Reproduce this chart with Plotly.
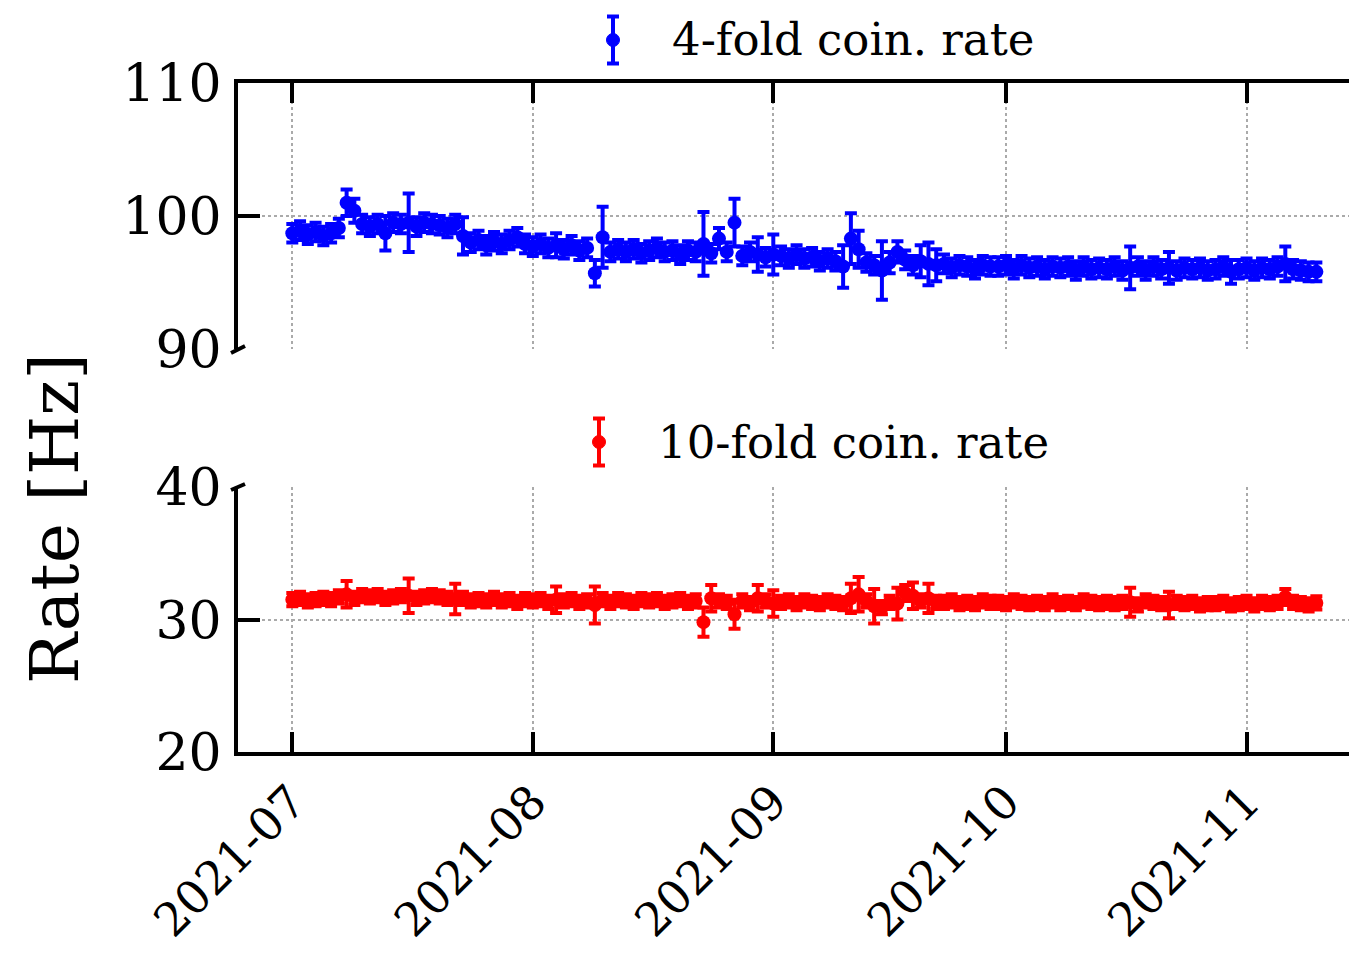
import plotly.graph_objects as go
import pandas as pd

W, H = 1349, 953

# ---------------- data (daily, 2021-07-01 .. 2021-11-10) ----------------
dates = pd.date_range("2021-07-01", "2021-11-10", freq="D")

rate4 = [
    98.7, 98.9, 98.6, 98.8, 98.5, 98.7, 99.1,      # Jul 1-7
    101.0, 100.4, 99.4, 99.2, 99.4, 98.7, 99.5,    # Jul 8-14
    99.4, 99.5, 99.2, 99.5, 99.4, 99.3, 99.1,      # Jul 15-21
    99.4, 98.5, 98.0, 98.2, 97.8, 98.1, 97.9,      # Jul 22-28
    98.2, 98.4, 97.9, 97.7, 97.9, 97.6, 97.8,      # Jul 29-Aug 4
    97.5, 97.8, 97.4, 97.6, 95.7, 98.4, 97.3,      # Aug 5-11
    97.5, 97.3, 97.5, 97.2, 97.4, 97.6, 97.3,      # Aug 12-18
    97.4, 97.1, 97.4, 97.3, 97.9, 97.2, 98.3,      # Aug 19-25
    97.3, 99.5, 97.0, 97.3, 97.1, 96.9, 97.1,      # Aug 26-Sep 1
    97.0, 96.8, 97.1, 96.8, 96.9, 96.6, 96.8,      # Sep 2-8
    96.6, 96.2, 98.3, 97.5, 96.5, 96.3, 95.9,      # Sep 9-15
    96.5, 97.3, 96.7, 96.3, 96.6, 96.4, 96.3,      # Sep 16-22
    96.4, 96.1, 96.3, 96.2, 96.0, 96.3, 96.2,      # Sep 23-29
    96.2, 96.3, 96.0, 96.3, 96.1, 96.2, 96.0,      # Sep 30-Oct 6
    96.2, 96.1, 96.2, 95.9, 96.2, 96.0, 96.1,      # Oct 7-13
    96.0, 96.2, 95.9, 96.1, 96.2, 95.9, 96.2,      # Oct 14-20
    96.0, 96.1, 95.9, 96.1, 96.0, 96.1, 95.9,      # Oct 21-27
    96.0, 96.2, 95.8, 96.0, 96.1, 95.9, 96.1,      # Oct 28-Nov 3
    96.0, 96.2, 96.4, 96.0, 95.9, 95.8, 95.8,      # Nov 4-10
]
err4 = [
    0.7, 0.7, 0.7, 0.7, 0.7, 0.7, 0.7,
    1.0, 0.9, 0.7, 0.7, 0.7, 1.3, 0.7,
    0.7, 2.2, 0.7, 0.7, 0.7, 0.7, 0.7,
    0.7, 1.4, 0.7, 0.7, 0.7, 0.7, 0.7,
    0.7, 0.7, 0.7, 0.7, 0.7, 0.7, 0.9,
    0.7, 0.7, 0.7, 0.7, 1.0, 2.3, 0.7,
    0.7, 0.7, 0.7, 0.7, 0.7, 0.7, 0.7,
    0.7, 0.7, 0.7, 0.7, 2.4, 0.7, 0.8,
    0.7, 1.8, 0.7, 0.7, 1.3, 0.7, 1.5,
    0.7, 0.7, 0.7, 0.7, 0.7, 0.7, 0.7,
    0.7, 1.6, 1.9, 1.4, 0.7, 0.7, 2.2,
    0.8, 0.8, 0.7, 0.7, 1.2, 1.6, 1.2,
    0.7, 0.7, 0.7, 0.7, 0.7, 0.7, 0.7,
    0.7, 0.7, 0.7, 0.7, 0.7, 0.7, 0.7,
    0.7, 0.7, 0.7, 0.7, 0.7, 0.7, 0.7,
    0.7, 0.7, 0.7, 1.6, 0.7, 0.7, 0.7,
    0.7, 1.2, 0.7, 0.7, 0.7, 0.7, 0.7,
    0.7, 0.7, 0.9, 0.7, 0.7, 0.7, 0.7,
    0.7, 0.7, 1.3, 0.7, 0.7, 0.7, 0.7,
]

rate10 = [
    31.5, 31.6, 31.4, 31.5, 31.6, 31.5, 31.7,
    31.9, 31.6, 31.8, 31.7, 31.8, 31.6, 31.7,
    31.8, 31.8, 31.6, 31.7, 31.8, 31.7, 31.6,
    31.55, 31.6, 31.4, 31.5, 31.4, 31.6, 31.4,
    31.5, 31.3, 31.5, 31.4, 31.5, 31.3, 31.5,
    31.4, 31.5, 31.3, 31.4, 31.1, 31.5, 31.3,
    31.5, 31.4, 31.3, 31.5, 31.4, 31.5, 31.3,
    31.4, 31.5, 31.3, 31.4, 29.8, 31.6, 31.4,
    31.3, 30.4, 31.4, 31.2, 31.6, 31.4, 31.2,
    31.3, 31.4, 31.2, 31.4, 31.3, 31.2, 31.4,
    31.3, 31.2, 31.6, 31.9, 31.4, 31.0, 30.9,
    31.3, 31.2, 32.0, 31.8, 31.4, 31.6, 31.3,
    31.3, 31.4, 31.2, 31.3, 31.2, 31.4, 31.3,
    31.3, 31.2, 31.4, 31.3, 31.2, 31.3, 31.2,
    31.4, 31.2, 31.3, 31.2, 31.4, 31.3, 31.2,
    31.3, 31.2, 31.3, 31.3, 31.1, 31.4, 31.3,
    31.2, 31.1, 31.3, 31.2, 31.3, 31.1, 31.2,
    31.2, 31.3, 31.1, 31.2, 31.3, 31.1, 31.3,
    31.2, 31.3, 31.7, 31.3, 31.2, 31.1, 31.25,
]
err10 = [
    0.5, 0.5, 0.5, 0.5, 0.5, 0.5, 0.5,
    1.0, 0.5, 0.5, 0.5, 0.5, 0.5, 0.5,
    0.5, 1.3, 0.5, 0.5, 0.5, 0.5, 0.5,
    1.15, 0.5, 0.5, 0.5, 0.5, 0.5, 0.5,
    0.5, 0.5, 0.5, 0.5, 0.5, 0.5, 1.0,
    0.5, 0.5, 0.5, 0.5, 1.4, 0.5, 0.5,
    0.5, 0.5, 0.5, 0.5, 0.5, 0.5, 0.5,
    0.5, 0.5, 0.5, 0.5, 1.1, 1.0, 0.5,
    0.5, 1.1, 0.5, 0.5, 1.0, 0.5, 1.0,
    0.5, 0.5, 0.5, 0.5, 0.5, 0.5, 0.5,
    0.5, 0.5, 1.1, 1.3, 0.5, 1.3, 0.5,
    0.5, 1.2, 0.6, 1.0, 0.5, 1.1, 0.5,
    0.5, 0.5, 0.5, 0.5, 0.5, 0.5, 0.5,
    0.5, 0.5, 0.5, 0.5, 0.5, 0.5, 0.5,
    0.5, 0.5, 0.5, 0.5, 0.5, 0.5, 0.5,
    0.5, 0.5, 0.5, 1.1, 0.5, 0.5, 0.5,
    0.5, 1.0, 0.5, 0.5, 0.5, 0.5, 0.5,
    0.5, 0.5, 0.5, 0.5, 0.5, 0.5, 0.5,
    0.5, 0.5, 0.6, 0.5, 0.5, 0.5, 0.5,
]

month_ticks = ["2021-07-01", "2021-08-01", "2021-09-01", "2021-10-01", "2021-11-01"]
month_labels = ["2021-07", "2021-08", "2021-09", "2021-10", "2021-11"]
top_ticks = [90, 100, 110]
bottom_ticks = [20, 30, 40]
label4 = "4-fold coin. rate"
label10 = "10-fold coin. rate"

BLUE = "#0000ff"
RED = "#ff0000"
FONT = "DejaVu Serif"


def px(x):
    return x / W


def py(y):
    return 1 - y / H


fig = go.Figure()
fig.add_trace(go.Scatter(
    x=dates, y=rate4, mode="markers", name=label4, showlegend=False,
    marker=dict(color=BLUE, size=14),
    error_y=dict(type="data", array=err4, color=BLUE, thickness=4, width=6),
    xaxis="x2", yaxis="y2", cliponaxis=False,
))
fig.add_trace(go.Scatter(
    x=dates, y=rate10, mode="markers", name=label10, showlegend=False,
    marker=dict(color=RED, size=14),
    error_y=dict(type="data", array=err10, color=RED, thickness=4, width=6),
    xaxis="x", yaxis="y", cliponaxis=False,
))

xrange = ["2021-06-24", "2021-11-14 05:00"]
common_x = dict(
    domain=[px(238), 1], range=xrange, tickvals=month_ticks, ticktext=month_labels,
    ticks="inside", ticklen=20, tickwidth=4, tickcolor="black",
    showline=True, linewidth=4, linecolor="black",
    showgrid=True, gridcolor="#aaaaaa", griddash="dot", gridwidth=1.5,
    zeroline=False, automargin=False,
    tickfont=dict(family=FONT, size=46, color="black"),
)
common_y = dict(
    ticks="inside", ticklen=22, tickwidth=4, tickcolor="black",
    showline=True, linewidth=4, linecolor="black",
    showgrid=True, gridcolor="#aaaaaa", griddash="dot", gridwidth=1.5,
    zeroline=False, automargin=False, ticklabelstandoff=2,
    tickfont=dict(family=FONT, size=52, color="black"),
)

fig.update_layout(
    width=W, height=H,
    margin=dict(l=0, r=0, t=0, b=0),
    paper_bgcolor="white", plot_bgcolor="white",
    xaxis=dict(**common_x, anchor="y", tickangle=-45, ticklabelstandoff=0),
    xaxis2=dict(**common_x, anchor="y2", side="top", matches="x", showticklabels=False),
    yaxis=dict(**common_y, domain=[py(752), py(487)], range=[20, 40],
               tickvals=bottom_ticks, anchor="x"),
    yaxis2=dict(**common_y, domain=[py(349), py(83)], range=[90, 110],
                tickvals=top_ticks, anchor="x2"),
)

# y label
fig.add_annotation(text="Rate [Hz]", textangle=-90, x=px(54), y=py(519),
                   xref="paper", yref="paper", showarrow=False,
                   xanchor="center", yanchor="middle",
                   font=dict(family=FONT, size=68, color="black"))


# legends (glyph drawn as shapes + text annotation)
def legend_entry(cx, cy, color, text, tx):
    half = 23.5
    fig.add_shape(type="line", xref="paper", yref="paper",
                  x0=px(cx), x1=px(cx), y0=py(cy - half), y1=py(cy + half),
                  line=dict(color=color, width=4))
    for yy in (cy - half, cy + half):
        fig.add_shape(type="line", xref="paper", yref="paper",
                      x0=px(cx - 6), x1=px(cx + 6), y0=py(yy), y1=py(yy),
                      line=dict(color=color, width=4))
    fig.add_shape(type="circle", xref="paper", yref="paper",
                  x0=px(cx - 6.5), x1=px(cx + 6.5), y0=py(cy + 6.5), y1=py(cy - 6.5),
                  fillcolor=color, line=dict(color=color, width=1))
    fig.add_annotation(text=text, x=px(tx), y=py(cy), xref="paper", yref="paper",
                       xanchor="left", yanchor="middle", showarrow=False,
                       font=dict(family=FONT, size=45, color="black"))


legend_entry(613, 40, BLUE, label4, 670)
legend_entry(599, 442, RED, label10, 656)

# broken-axis marks
for (x0, y0, x1, y1) in [(231, 353, 245, 346), (231, 490, 245, 484)]:
    fig.add_shape(type="line", xref="paper", yref="paper",
                  x0=px(x0), y0=py(y0), x1=px(x1), y1=py(y1),
                  line=dict(color="black", width=4))

fig.write_html("out.html", config={"displayModeBar": False},
               post_script="document.body.style.margin='0px';document.body.style.overflow='hidden';")
